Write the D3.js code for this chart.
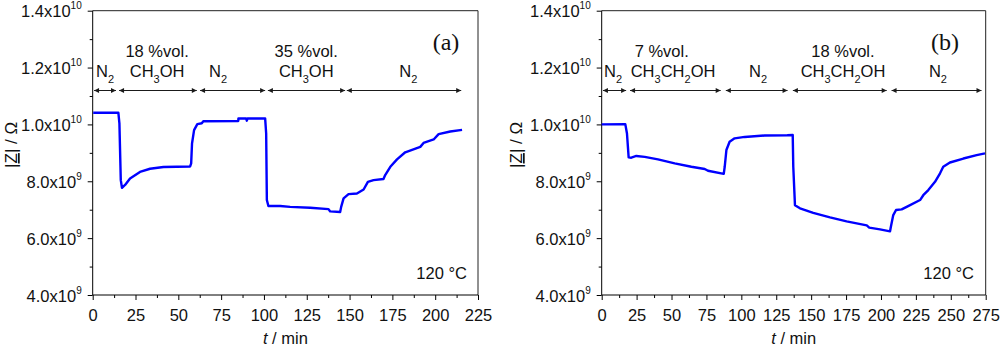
<!DOCTYPE html>
<html>
<head>
<meta charset="utf-8">
<script src="https://cdn.jsdelivr.net/npm/d3@7"></script>
<style>
  html, body { margin: 0; padding: 0; background: #fff; }
  svg { display: block; font-family: "Liberation Sans", Arial, sans-serif; }
</style>
</head>
<body>
<svg id="chart" width="1000" height="347"></svg>
<script>
// ---------- DATA ----------
// Panel (a): methanol
const timeA = [0.3, 15.0, 15.6, 16.4, 17.1, 18.9, 21.8, 27.6, 33.5, 41.3, 49.1, 56.9, 57.5, 58.0, 59.2, 61.1, 63.7, 64.6, 85.0, 85.1, 89.6, 90.0, 90.4, 100.7, 101.3, 101.7, 102.6, 109.5, 115.3, 127.0, 137.7, 138.7, 144.5, 145.1, 146.5, 149.4, 154.3, 158.2, 160.7, 164.0, 169.8, 170.8, 173.8, 177.7, 182.5, 191.3, 193.2, 199.1, 202.0, 208.8, 215.7];
const zA = [1.041e10, 1.041e10, 1.004e10, 8.04e9, 7.77e9, 7.87e9, 8.10e9, 8.33e9, 8.44e9, 8.50e9, 8.51e9, 8.52e9, 8.63e9, 9.33e9, 9.80e9, 1.001e10, 1.004e10, 1.011e10, 1.012e10, 1.021e10, 1.021e10, 1.013e10, 1.021e10, 1.021e10, 9.68e9, 7.34e9, 7.13e9, 7.13e9, 7.10e9, 7.07e9, 7.02e9, 6.94e9, 6.92e9, 7.10e9, 7.40e9, 7.55e9, 7.57e9, 7.71e9, 7.98e9, 8.04e9, 8.08e9, 8.22e9, 8.51e9, 8.77e9, 9.02e9, 9.21e9, 9.35e9, 9.47e9, 9.66e9, 9.75e9, 9.81e9];

// Panel (b): ethanol
const timeB = [0, 16.9, 18.1, 19.3, 21.2, 24.8, 30.8, 40.3, 52.3, 64.2, 73.8, 76.1, 87.4, 88.1, 89.3, 91.6, 95.2, 102.4, 116.7, 132.9, 136.8, 137.2, 138.4, 142.0, 151.5, 163.5, 175.4, 189.8, 191.6, 199.3, 206.5, 207.2, 208.8, 210.8, 214.8, 218.4, 228.0, 230.3, 233.9, 238.7, 242.3, 244.6, 249.4, 259.0, 268.5, 274.5];
const zB = [1.000e10, 1.001e10, 9.68e9, 8.84e9, 8.83e9, 8.89e9, 8.86e9, 8.77e9, 8.63e9, 8.51e9, 8.43e9, 8.37e9, 8.26e9, 8.51e9, 9.10e9, 9.39e9, 9.51e9, 9.56e9, 9.61e9, 9.62e9, 9.63e9, 8.51e9, 7.16e9, 7.05e9, 6.89e9, 6.73e9, 6.59e9, 6.45e9, 6.37e9, 6.31e9, 6.24e9, 6.43e9, 6.81e9, 6.99e9, 7.01e9, 7.10e9, 7.34e9, 7.51e9, 7.69e9, 7.98e9, 8.28e9, 8.51e9, 8.66e9, 8.80e9, 8.92e9, 8.98e9];

// Axis ticks
const yTicks = [4e9, 6e9, 8e9, 1.0e10, 1.2e10, 1.4e10];
const yMinorTicks = [5e9, 7e9, 9e9, 1.1e10, 1.3e10];
const xTicksA = [0, 25, 50, 75, 100, 125, 150, 175, 200, 225];
const xTicksB = [0, 25, 50, 75, 100, 125, 150, 175, 200, 225, 250, 275];

// Gas-phase annotations (segments in minutes)
const segStartA = [0.8, 15.4, 62.7, 102.3, 148.4];
const segEndA = [13.6, 60.8, 100.7, 147.4, 215.2];
const segLine1A = ["", "18 %vol.", "", "35 %vol.", ""];
const segLine2A = [["N", "2", ""], ["CH", "3", "OH"], ["N", "2", ""], ["CH", "3", "OH"], ["N", "2", ""]];
const segLabelAtA = [7.2, 37.6, 73.2, 124.7, 184.3];

const segStartB = [0.9, 20.3, 88.9, 136.9, 207.6];
const segEndB = [17.5, 85.2, 133.1, 204.1, 272.0];
const segLine1B = ["", "7 %vol.", "", "18 %vol.", ""];
const segLine2B = [["N", "2", ""], ["CH", "3", "CH", "2", "OH"], ["N", "2", ""], ["CH", "3", "CH", "2", "OH"], ["N", "2", ""]];
const segLabelAtB = [8.1, 51.1, 112.0, 172.8, 240.8];
const segLabel1AtB = [8.1, 43.0, 112.0, 172.8, 240.8];

const panelLetters = ["(a)", "(b)"];
const tempLabel = "120 °C";

// ---------- DRAWING ----------
const svg = d3.select("#chart");
const defs = svg.append("defs");
defs.append("marker").attr("id", "arrEnd").attr("viewBox", "0 0 10 10")
  .attr("refX", 10).attr("refY", 5).attr("markerWidth", 7).attr("markerHeight", 5)
  .attr("markerUnits", "userSpaceOnUse").attr("orient", "auto")
  .append("path").attr("d", "M0,0 L10,5 L0,10 Z").attr("fill", "#1a1a1a");
defs.append("marker").attr("id", "arrStart").attr("viewBox", "0 0 10 10")
  .attr("refX", 0).attr("refY", 5).attr("markerWidth", 7).attr("markerHeight", 5)
  .attr("markerUnits", "userSpaceOnUse").attr("orient", "auto")
  .append("path").attr("d", "M10,0 L0,5 L10,10 Z").attr("fill", "#1a1a1a");

const yTop = 10.7, yBot = 295;

const panels = [
  { x0: 92.7, x1: 478, xmax: 225, xticks: xTicksA, t: timeA, z: zA,
    segS: segStartA, segE: segEndA, l1: segLine1A, l2: segLine2A, lAt: segLabelAtA, l1At: segLabelAtA,
    letter: panelLetters[0], letterX: 446, tempX: 467, yTitleX: 17 },
  { x0: 601.7, x1: 985.7, xmax: 275, xticks: xTicksB, t: timeB, z: zB,
    segS: segStartB, segE: segEndB, l1: segLine1B, l2: segLine2B, lAt: segLabelAtB, l1At: segLabel1AtB,
    letter: panelLetters[1], letterX: 945, tempX: 974, yTitleX: 522 }
];

function fmtY(v) {
  if (v >= 1e10) return { m: (v / 1e10).toFixed(1) + "x10", e: "10" };
  return { m: (v / 1e9).toFixed(1) + "x10", e: "9" };
}

panels.forEach(p => {
  const x = d3.scaleLinear().domain([0, p.xmax]).range([p.x0, p.x1]);
  const y = d3.scaleLinear().domain([4e9, 1.4e10]).range([yBot, yTop]);
  const g = svg.append("g");

  // frame (top & right)
  g.append("line").attr("x1", p.x0).attr("x2", p.x1).attr("y1", yTop).attr("y2", yTop)
    .attr("stroke", "#222").attr("stroke-width", 1);
  g.append("line").attr("x1", p.x1).attr("x2", p.x1).attr("y1", yTop).attr("y2", yBot)
    .attr("stroke", "#222").attr("stroke-width", 1);

  // x axis
  const xAxis = d3.axisBottom(x).tickValues(p.xticks).tickSize(5).tickPadding(6).tickFormat(d3.format("d"));
  const gx = g.append("g").attr("transform", `translate(0,${yBot})`).call(xAxis);
  gx.select(".domain").attr("stroke", "#000").attr("d", `M${p.x0},0H${p.x1}`);
  gx.selectAll(".tick line").attr("stroke", "#000");
  gx.selectAll(".tick text").attr("font-size", 16.5).attr("font-family", "Liberation Sans, Arial, sans-serif")
    .attr("fill", "#111").attr("dy", "0.9em");
  const xMinor = p.xticks.slice(0, -1).map(d => d + 12.5);
  g.append("g").attr("transform", `translate(0,${yBot})`)
    .call(d3.axisBottom(x).tickValues(xMinor).tickSize(3).tickFormat(""))
    .call(s => s.select(".domain").remove());

  // y axis
  const yAxis = d3.axisLeft(y).tickValues(yTicks).tickSize(5).tickFormat("");
  const gy = g.append("g").attr("transform", `translate(${p.x0},0)`).call(yAxis);
  gy.select(".domain").attr("d", `M0,${yTop}V${yBot}`).attr("stroke", "#000");
  gy.selectAll(".tick").each(function(d) {
    const f = fmtY(d);
    const t = d3.select(this).append("text").attr("x", -11).attr("y", 6)
      .attr("text-anchor", "end").attr("fill", "#111").attr("font-size", 16.5)
      .attr("font-family", "Liberation Sans, Arial, sans-serif");
    t.append("tspan").text(f.m);
    t.append("tspan").attr("font-size", 10).attr("dy", -8).text(f.e);
  });
  g.append("g").attr("transform", `translate(${p.x0},0)`)
    .call(d3.axisLeft(y).tickValues(yMinorTicks).tickSize(3).tickFormat(""))
    .call(s => s.select(".domain").remove());

  // y title
  const yt = g.append("text")
    .attr("transform", `translate(${p.yTitleX},${(yTop + yBot) / 2 - 8}) rotate(-90)`)
    .attr("text-anchor", "middle").attr("font-size", 17).attr("fill", "#111");
  yt.append("tspan").text("|");
  yt.append("tspan").attr("text-decoration", "underline").text("Z");
  yt.append("tspan").text("| / Ω");

  // x title
  const xt = g.append("text").attr("x", (p.x0 + p.x1) / 2).attr("y", 344)
    .attr("text-anchor", "middle").attr("font-size", 16.5).attr("fill", "#111");
  xt.append("tspan").attr("font-style", "italic").text("t");
  xt.append("tspan").text(" / min");

  // data line
  const pts = p.t.map((tt, i) => [tt, p.z[i]]);
  g.append("path").datum(pts)
    .attr("fill", "none").attr("stroke", "#0000ff").attr("stroke-width", 2.4)
    .attr("stroke-linejoin", "round")
    .attr("d", d3.line().x(d => x(d[0])).y(d => y(d[1])));

  // annotations
  const arrowY = 90.5;
  p.segS.forEach((s, i) => {
    g.append("line").attr("x1", x(s)).attr("x2", x(p.segE[i])).attr("y1", arrowY).attr("y2", arrowY)
      .attr("stroke", "#1a1a1a").attr("stroke-width", 1)
      .attr("marker-start", "url(#arrStart)").attr("marker-end", "url(#arrEnd)");
    if (p.l1[i]) {
      g.append("text").attr("x", x(p.l1At[i])).attr("y", 57).attr("text-anchor", "middle")
        .attr("font-size", 16.5).attr("fill", "#111").text(p.l1[i]);
    }
    const t2 = g.append("text").attr("x", x(p.lAt[i])).attr("y", 77).attr("text-anchor", "middle")
      .attr("font-size", 16.5).attr("fill", "#111");
    const parts = p.l2[i];
    parts.forEach((part, k) => {
      if (!part) return;
      if (k % 2 === 1) {
        t2.append("tspan").attr("font-size", 11).attr("dy", 6).text(part);
      } else {
        const ts = t2.append("tspan").text(part);
        if (k > 0) ts.attr("dy", -6);
      }
    });
  });

  // panel letter
  g.append("text").attr("x", p.letterX).attr("y", 50).attr("text-anchor", "middle")
    .attr("font-family", "Liberation Serif, Times New Roman, serif").attr("font-size", 24)
    .attr("fill", "#111").text(p.letter);

  // temperature
  g.append("text").attr("x", p.tempX).attr("y", 278.5).attr("text-anchor", "end")
    .attr("font-size", 16.5).attr("fill", "#111").text(tempLabel);
});
</script>
</body>
</html>
